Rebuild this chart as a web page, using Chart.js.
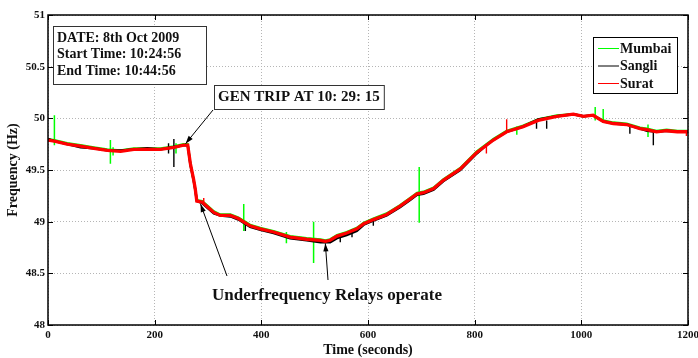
<!DOCTYPE html>
<html><head><meta charset="utf-8">
<script src="https://cdn.jsdelivr.net/npm/chart.js@4/dist/chart.umd.min.js"></script>
<style>html,body{margin:0;padding:0;background:#fff}</style>
</head><body>
<canvas id="c" width="698" height="358"></canvas>
<script>
// ---- data ----
const timeS = [0,12,36,61,86,111,136,161,186,211,236,254,262,267,273,276,279,289,300,311,323,342,357,379,398,423,454,485,511,520,529,542,560,579,592,610,635,660,679,692,704,723,741,773,804,822,835,860,891,919,954,985,1004,1022,1041,1060,1085,1110,1123,1141,1160,1180,1200];
const surat  = [49.79,49.78,49.75,49.73,49.71,49.69,49.68,49.70,49.70,49.70,49.72,49.74,49.74,49.56,49.41,49.32,49.20,49.19,49.14,49.09,49.06,49.06,49.03,48.96,48.93,48.90,48.85,48.83,48.82,48.81,48.82,48.86,48.89,48.93,48.98,49.02,49.07,49.15,49.22,49.27,49.28,49.32,49.40,49.51,49.67,49.74,49.79,49.87,49.92,49.98,50.02,50.04,50.02,50.03,49.97,49.95,49.94,49.90,49.89,49.87,49.88,49.87,49.87];
const sangli = [49.80,49.78,49.75,49.72,49.71,49.69,49.69,49.70,49.71,49.70,49.72,49.74,49.74,49.55,49.40,49.31,49.20,49.18,49.13,49.08,49.06,49.05,49.02,48.95,48.92,48.89,48.84,48.82,48.80,48.80,48.80,48.84,48.87,48.91,48.97,49.01,49.06,49.14,49.21,49.26,49.27,49.31,49.39,49.50,49.66,49.74,49.79,49.87,49.92,49.99,50.02,50.04,50.02,50.03,49.97,49.95,49.94,49.90,49.88,49.87,49.88,49.87,49.87];
const mumbai = [49.80,49.79,49.76,49.74,49.72,49.70,49.69,49.71,49.71,49.71,49.73,49.75,49.75,49.56,49.41,49.32,49.21,49.20,49.15,49.10,49.07,49.07,49.04,48.97,48.94,48.91,48.86,48.84,48.83,48.82,48.83,48.87,48.90,48.94,48.99,49.03,49.08,49.16,49.23,49.28,49.29,49.33,49.41,49.52,49.68,49.75,49.80,49.88,49.93,49.99,50.03,50.04,50.02,50.03,49.98,49.96,49.95,49.91,49.90,49.88,49.89,49.88,49.88];
// short transient spikes: [time, top, bottom]
const mumbaiSpikes = [[12,50.03,49.74],[117,49.79,49.56],[122,49.72,49.64],[240,49.76,49.66],[367,49.17,48.91],[447,48.90,48.79],[498,49.00,48.60],[696,49.53,48.99],[879,49.92,49.84],[1026,50.11,49.98],[1041,50.09,49.96],[1125,49.94,49.82]];
const sangliSpikes = [[226,49.76,49.66],[236,49.80,49.53],[370,49.00,48.91],[548,48.88,48.80],[570,48.93,48.85],[610,49.03,48.96],[916,49.98,49.90],[935,49.98,49.90],[1091,49.94,49.85],[1135,49.88,49.74]];
const suratSpikes  = [[292,49.23,49.18],[822,49.74,49.66],[860,49.99,49.86],[1197,49.88,49.83]];

const xTicks = [0,200,400,600,800,1000,1200];
const yTicks = [48,48.5,49,49.5,50,50.5,51];
const seriesNames  = ['Mumbai','Sangli','Surat'];
const seriesColors = ['#00ff00','#000000','#ff0000'];
const infoLines = ['DATE: 8th Oct 2009','Start Time: 10:24:56','End Time: 10:44:56'];
const tripLabel = 'GEN TRIP AT 10: 29: 15';
const relayLabel = 'Underfrequency Relays operate';
const tripPoint = [258, 49.755];
const relayPoints = [[286, 49.17], [520, 48.79]];

// ---- build ----
const FONT = '"Liberation Serif", "Times New Roman", serif';
const pts = (xs, ys) => xs.map((x, i) => ({x, y: ys[i]}));
const spikes = s => s.flatMap(([t, a, b]) => [{x: t, y: a}, {x: t, y: b}, {x: t, y: null}]);

const lineDs = (label, data, color, width, order) => ({
  label, data, borderColor: color, backgroundColor: color, borderWidth: width,
  pointRadius: 0, tension: 0, order, spanGaps: false
});

const datasets = [
  lineDs(seriesNames[0], pts(timeS, mumbai), seriesColors[0], 2.2, 6),
  lineDs(seriesNames[0] + ' spikes', spikes(mumbaiSpikes), seriesColors[0], 1.5, 5),
  lineDs(seriesNames[1], pts(timeS, sangli), seriesColors[1], 2.4, 4),
  lineDs(seriesNames[1] + ' spikes', spikes(sangliSpikes), seriesColors[1], 1.4, 3),
  lineDs(seriesNames[2], pts(timeS, surat), seriesColors[2], 3.3, 2),
  lineDs(seriesNames[2] + ' spikes', spikes(suratSpikes), seriesColors[2], 1.4, 1)
];

function arrow(ctx, x0, y0, x1, y1) {
  ctx.beginPath(); ctx.moveTo(x0, y0); ctx.lineTo(x1, y1); ctx.stroke();
  const a = Math.atan2(y1 - y0, x1 - x0), L = 8, W = 2.6;
  ctx.beginPath();
  ctx.moveTo(x1, y1);
  ctx.lineTo(x1 - L * Math.cos(a) + W * Math.sin(a), y1 - L * Math.sin(a) - W * Math.cos(a));
  ctx.lineTo(x1 - L * Math.cos(a) - W * Math.sin(a), y1 - L * Math.sin(a) + W * Math.cos(a));
  ctx.closePath(); ctx.fill();
}

const framePlugin = {
  id: 'frame',
  beforeDraw(chart) {
    const ctx = chart.ctx; ctx.save(); ctx.fillStyle = '#fff';
    ctx.fillRect(0, 0, chart.width, chart.height); ctx.restore();
  },
  afterDatasetsDraw(chart) {
    const {ctx, chartArea: a, scales: {x, y}} = chart;
    ctx.save();
    ctx.strokeStyle = '#000'; ctx.lineWidth = 1.5;
    ctx.strokeRect(a.left, a.top, a.right - a.left, a.bottom - a.top);
    ctx.lineWidth = 1;
    const T = 5;
    ctx.beginPath();
    xTicks.forEach(v => { const p = Math.round(x.getPixelForValue(v)) + 0.5;
      ctx.moveTo(p, a.bottom); ctx.lineTo(p, a.bottom - T);
      ctx.moveTo(p, a.top); ctx.lineTo(p, a.top + T); });
    yTicks.forEach(v => { const p = Math.round(y.getPixelForValue(v)) + 0.5;
      ctx.moveTo(a.left, p); ctx.lineTo(a.left + T, p);
      ctx.moveTo(a.right, p); ctx.lineTo(a.right - T, p); });
    ctx.stroke();
    ctx.restore();
  },
  afterDraw(chart) {
    const {ctx, scales: {x, y}} = chart;
    ctx.save();
    ctx.strokeStyle = '#000'; ctx.fillStyle = '#000'; ctx.lineWidth = 1;
    // info box
    ctx.fillStyle = '#fff'; ctx.fillRect(53, 26, 154, 58);
    ctx.strokeStyle = '#333'; ctx.strokeRect(53.5, 26.5, 153, 58);
    ctx.fillStyle = '#111'; ctx.font = 'bold 14px ' + FONT; ctx.textBaseline = 'middle'; ctx.textAlign = 'left';
    infoLines.forEach((s, i) => ctx.fillText(s, 57, 38 + i * 16.5));
    // trip box
    ctx.font = 'bold 15px ' + FONT;
    const tw = ctx.measureText(tripLabel).width;
    ctx.fillStyle = '#fff'; ctx.fillRect(214, 85, tw + 8, 24);
    ctx.strokeStyle = '#333'; ctx.strokeRect(214.5, 85.5, tw + 8, 24);
    ctx.fillStyle = '#111'; ctx.fillText(tripLabel, 218, 97.5);
    ctx.strokeStyle = '#000'; ctx.fillStyle = '#000';
    arrow(ctx, 213, 110, x.getPixelForValue(tripPoint[0]), y.getPixelForValue(tripPoint[1]));
    // relay text + arrows
    ctx.fillStyle = '#111'; ctx.font = 'bold 17px ' + FONT; ctx.textAlign = 'center';
    ctx.fillText(relayLabel, 327, 296);
    ctx.fillStyle = '#000';
    arrow(ctx, 227, 276, x.getPixelForValue(relayPoints[0][0]), y.getPixelForValue(relayPoints[0][1]));
    arrow(ctx, 328, 280, x.getPixelForValue(relayPoints[1][0]), y.getPixelForValue(relayPoints[1][1]));
    // legend
    ctx.fillStyle = '#fff'; ctx.fillRect(593, 37, 85, 57);
    ctx.strokeStyle = '#000'; ctx.strokeRect(593.5, 37.5, 84, 56);
    ctx.font = 'bold 14px ' + FONT; ctx.textAlign = 'left';
    seriesNames.forEach((n, i) => {
      const yy = 48 + i * 17.5;
      ctx.strokeStyle = seriesColors[i]; ctx.lineWidth = 1;
      ctx.beginPath(); ctx.moveTo(598, yy + 0.5); ctx.lineTo(619, yy + 0.5); ctx.stroke();
      ctx.fillStyle = '#111'; ctx.fillText(n, 620, yy + 1);
    });
    ctx.restore();
  }
};

new Chart(document.getElementById('c'), {
  type: 'line',
  data: {datasets},
  options: {
    responsive: false, animation: false, devicePixelRatio: 1,
    layout: {padding: {top: 15, right: 10, left: 0, bottom: 0}},
    plugins: {legend: {display: false}, tooltip: {enabled: false}},
    scales: {
      x: {
        type: 'linear', min: 0, max: 1200,
        afterBuildTicks: s => { s.ticks = xTicks.map(v => ({value: v})); },
        afterFit: s => { s.height = 33; s.paddingLeft = 0; s.paddingRight = 0; },
        ticks: {color: '#111', font: {family: FONT, size: 11, weight: 'bold'}, padding: 4, maxRotation: 0,
                callback: v => String(v)},
        grid: {color: '#b5b5b5', lineWidth: 1, drawTicks: false},
        border: {display: false, dash: [1, 2]},
        title: {display: true, text: 'Time (seconds)', color: '#111',
                font: {family: FONT, size: 14, weight: 'bold', lineHeight: 1.1}, padding: {top: 0, bottom: 0}}
      },
      y: {
        type: 'linear', min: 48, max: 51,
        afterBuildTicks: s => { s.ticks = yTicks.map(v => ({value: v})); },
        afterFit: s => { s.width = 48; },
        ticks: {color: '#111', font: {family: FONT, size: 11, weight: 'bold'}, padding: 3,
                callback: v => String(v)},
        grid: {color: '#b5b5b5', lineWidth: 1, drawTicks: false},
        border: {display: false, dash: [1, 2]},
        title: {display: true, text: 'Frequency (Hz)', color: '#111',
                font: {family: FONT, size: 14, weight: 'bold', lineHeight: 1.1}, padding: {top: 6, bottom: 0}}
      }
    }
  },
  plugins: [framePlugin]
});
</script>
</body></html>
